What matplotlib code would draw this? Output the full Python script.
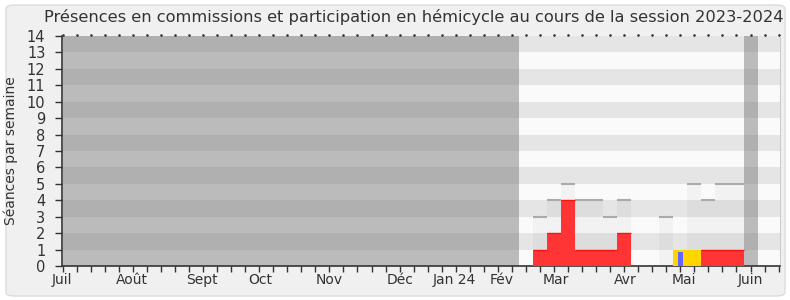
import matplotlib.pyplot as plt
from matplotlib.patches import FancyBboxPatch
plt.switch_backend('Agg')

# semaines de la session (0 = debut juillet 2023)
semaines_commission = [34, 35, 36, 37, 38, 39, 40, 46, 47, 48]
seances_commission = [1, 2, 4, 1, 1, 1, 2, 1, 1, 1]

semaines_hemicycle = [44, 45]
seances_hemicycle = [1, 1]

semaines_interventions = [44]
seances_interventions = [0.85]

semaines_mediane = [34, 35, 36, 37, 38, 39, 40, 43, 45, 46, 47, 48]
seances_mediane = [3, 4, 5, 4, 4, 3, 4, 3, 5, 4, 5, 5]

# periodes hors session (semaines debut, fin)
vacances = [(-0.5, 32.5), (48.5, 49.5)]

mois_labels = ['Juil', 'Août', 'Sept', 'Oct', 'Nov', 'Déc', 'Jan 24', 'Fév', 'Mar', 'Avr', 'Mai', 'Juin']
mois_pos = [-0.05, 4.9, 9.9, 14.1, 18.95, 24.0, 27.9, 31.25, 35.1, 40.05, 44.25, 49.0]

n_semaines = 52
y_max = 14

fig = plt.figure(figsize=(7.9, 3.0), dpi=100)
fig.patch.set_facecolor('white')
cadre = FancyBboxPatch((6 / 790, 4 / 300), 779 / 790, 291 / 300,
                       boxstyle='round,pad=0,rounding_size=0.012',
                       transform=fig.transFigure, facecolor='#f0f0f0',
                       edgecolor='#dcdcdc', linewidth=1, zorder=-10)
fig.patches.append(cadre)

ax = fig.add_axes([62 / 790, 1 - 266 / 300, 718 / 790, 230 / 300])
x0, x1 = 0, 51.1
ax.set_xlim(x0, x1)
ax.set_ylim(0, y_max)

# bandes de fond
for i in range(y_max):
    c = '#e5e5e5' if i % 2 == 1 else '#fafafa'
    ax.fill_between([x0, x1], i, i + 1, color=c, lw=0, zorder=0)

for (a, b) in vacances:
    for i in range(y_max):
        c = '#b0b0b0' if i % 2 == 1 else '#bbbbbb'
        ax.fill_between([max(a, x0), b], i, i + 1, color=c, lw=0, zorder=1)

# mediane
ax.bar(semaines_mediane, seances_mediane, width=1.0, color='black', alpha=0.03, lw=0, zorder=2)
ax.hlines(seances_mediane, [s - 0.5 for s in semaines_mediane], [s + 0.5 for s in semaines_mediane],
          colors='#aaaaaa', lw=1.5, zorder=2.5)

# presences
ax.bar(semaines_commission, seances_commission, width=1.0, color='#ff3535', lw=0, zorder=3)
ax.hlines(seances_commission, [s - 0.5 for s in semaines_commission], [s + 0.5 for s in semaines_commission],
          colors='#ff1010', lw=1, zorder=3.5)
ax.bar(semaines_hemicycle, seances_hemicycle, width=1.0, color='#ffd500', lw=0, zorder=3)
ax.bar(semaines_interventions, seances_interventions, width=0.36, color='#6464ff', lw=0, zorder=4)

ax.set_yticks(range(0, y_max + 1))
ax.set_xticks(range(0, 52))
ax.set_xticklabels([])
ax.xaxis.remove_overlapping_locs = False
ax.set_xticks(mois_pos, minor=True)
ax.set_xticklabels(mois_labels, minor=True)
ax.tick_params(axis='x', which='major', direction='out', length=4, width=1, color='#333333')
ax.tick_params(axis='x', which='minor', length=0, pad=5, labelsize=10, labelcolor='#333333')
ax.tick_params(axis='y', direction='out', length=5, width=1, color='#333333',
               labelsize=10.5, labelcolor='#333333', pad=7)

for s in ['left', 'bottom']:
    ax.spines[s].set_color('#333333')
    ax.spines[s].set_linewidth(1.2)
ax.spines['top'].set_visible(False)
ax.spines['right'].set_color('#cccccc')

# petits points en haut
ax.plot(range(0, 52), [y_max + 0.08] * 52, ls='none', marker='s', ms=0.8, color='#333333', clip_on=False)

ax.set_ylabel('Séances par semaine', fontsize=10, color='#333333')
ax.yaxis.set_label_coords(-44 / 718, 0.5)
fig.text(414 / 790, 1 - 17 / 300, 'Présences en commissions et participation en hémicycle au cours de la session 2023-2024',
         ha='center', va='center', fontsize=11.7, color='#333333')

plt.savefig('out.png', dpi=100)
